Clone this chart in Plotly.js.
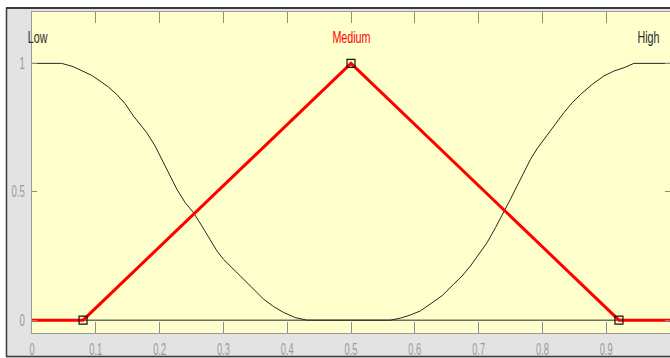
<!DOCTYPE html>
<html>
<head>
<meta charset="utf-8">
<script src="https://cdn.plot.ly/plotly-3.0.1.min.js"></script>
<style>html,body{margin:0;padding:0;background:#fff;}#chart{width:670px;height:358px;}</style>
</head>
<body>
<div id="chart"></div>
<script>
// Membership function "Low"
const lowX = [0, 0.0465, 0.0648, 0.0805, 0.0936, 0.1067, 0.1198, 0.1328, 0.1459, 0.1590, 0.1694, 0.1799, 0.1930, 0.2060, 0.2165, 0.2270, 0.2400, 0.2531, 0.2662, 0.2793, 0.2897, 0.3002, 0.3159, 0.3316, 0.3472, 0.3629, 0.3786, 0.3943, 0.4126, 0.4309, 1.0];
const lowY = [1, 1.0, 0.987, 0.970, 0.953, 0.931, 0.908, 0.879, 0.843, 0.795, 0.763, 0.730, 0.678, 0.613, 0.561, 0.510, 0.458, 0.419, 0.367, 0.315, 0.270, 0.237, 0.198, 0.160, 0.121, 0.082, 0.053, 0.030, 0.010, 0, 0];
// Membership function "High"
const highX = [0, 0.5617, 0.5773, 0.5930, 0.6087, 0.6244, 0.6427, 0.6609, 0.6741, 0.6872, 0.7002, 0.7133, 0.7264, 0.7395, 0.7499, 0.7604, 0.7709, 0.7813, 0.7918, 0.8023, 0.8180, 0.8337, 0.8468, 0.8598, 0.8781, 0.8964, 0.9121, 0.9278, 0.9435, 1.0];
const highY = [0, 0, 0.008, 0.020, 0.036, 0.062, 0.095, 0.140, 0.172, 0.211, 0.254, 0.302, 0.360, 0.419, 0.471, 0.523, 0.574, 0.626, 0.668, 0.704, 0.756, 0.808, 0.847, 0.879, 0.918, 0.951, 0.970, 0.983, 1.0, 1.0];
// Membership function "Medium" (triangle)
const medX = [0, 0.08, 0.5, 0.92, 1.0];
const medY = [0, 0, 1, 0, 0];
const medParamX = [0.08, 0.5, 0.92];
const medParamY = [0, 1, 0];
// Labels
const mfNames = ["Low", "Medium", "High"];
const mfLabelX = [0.009, 0.5, 0.966];
const mfLabelY = [1.1, 1.1, 1.1];
const xTicks = [0, 0.1, 0.2, 0.3, 0.4, 0.5, 0.6, 0.7, 0.8, 0.9, 1];
const xTickText = ["0", "0.1", "0.2", "0.3", "0.4", "0.5", "0.6", "0.7", "0.8", "0.9", "1"];
const yTicks = [0, 0.5, 1];
const yTickText = ["0", "0.5", "1"];

const fam = '"Liberation Sans", Arial, sans-serif';

const traces = [
  {x: lowX, y: lowY, type: 'scatter', mode: 'lines', line: {color: '#262626', width: 1}, hoverinfo: 'skip'},
  {x: highX, y: highY, type: 'scatter', mode: 'lines', line: {color: '#262626', width: 1}, hoverinfo: 'skip'},
  {x: medX, y: medY, type: 'scatter', mode: 'lines', line: {color: '#ff0000', width: 3}, hoverinfo: 'skip'},
  {x: medParamX, y: medParamY, type: 'scatter', mode: 'markers',
   marker: {symbol: 'square-open', size: 8, color: '#111', line: {width: 1.2, color: '#111'}}, hoverinfo: 'skip', cliponaxis: false}
];

// pixel -> paper helpers
const L = 32, T = 12, W = 638, H = 321;
const px = p => (p - L) / W;
const py = p => (T + H - p) / H;

const mfColors = ['#2a2a2a', '#ff0000', '#2a2a2a'];

const layout = {
  width: 670, height: 358,
  margin: {l: L, r: 670 - L - W, t: T, b: 358 - T - H},
  paper_bgcolor: '#e3e3e3',
  plot_bgcolor: '#ffffcc',
  showlegend: false,
  xaxis: {
    range: [0, 1], tickvals: xTicks, ticktext: xTickText,
    ticks: 'inside', ticklen: 11, tickcolor: '#8c8c8c', tickwidth: 1,
    showline: true, linecolor: '#9a9a9a', linewidth: 1, mirror: 'ticks',
    showgrid: false, zeroline: false, fixedrange: true,
    tickfont: {family: fam, size: 16, color: '#9a9a9a'},
    ticklabelstandoff: 2
  },
  yaxis: {
    range: [-0.05, 1.2], tickvals: yTicks, ticktext: yTickText,
    ticks: 'inside', ticklen: 5, tickcolor: '#8c8c8c', tickwidth: 1,
    showline: true, linecolor: '#9a9a9a', linewidth: 1, mirror: 'ticks',
    showgrid: false, zeroline: false, fixedrange: true,
    tickfont: {family: fam, size: 16, color: '#9a9a9a'},
    ticklabelstandoff: 3
  },
  annotations: mfNames.map((n, i) => ({
    x: mfLabelX[i], y: mfLabelY[i], xref: 'x', yref: 'y', text: n, showarrow: false,
    xanchor: 'center', font: {family: fam, size: 16, color: mfColors[i]}
  })),
  shapes: [
    {type: 'rect', xref: 'paper', yref: 'paper', x0: px(0), x1: px(670), y0: py(7), y1: py(0), fillcolor: '#ffffff', line: {width: 0}, layer: 'above'},
    {type: 'rect', xref: 'paper', yref: 'paper', x0: px(0), x1: px(6), y0: py(358), y1: py(0), fillcolor: '#ffffff', line: {width: 0}, layer: 'above'},
    {type: 'line', xref: 'paper', yref: 'paper', x0: px(6), x1: px(670), y0: py(8), y1: py(8), line: {color: '#3a3a3a', width: 2}, layer: 'above'},
    {type: 'line', xref: 'paper', yref: 'paper', x0: px(6.5), x1: px(6.5), y0: py(8), y1: py(357), line: {color: '#3a3a3a', width: 1.5}, layer: 'above'},
    {type: 'line', xref: 'paper', yref: 'paper', x0: px(6), x1: px(670), y0: py(356.5), y1: py(356.5), line: {color: '#3a3a3a', width: 1.5}, layer: 'above'}
  ]
};

// Horizontally condense text (the reference uses a very narrow face)
function condense(sel, factor) {
  document.querySelectorAll(sel).forEach(t => {
    const w = t.getComputedTextLength();
    if (w > 0) {
      t.setAttribute('textLength', (w * factor).toFixed(2));
      t.setAttribute('lengthAdjust', 'spacingAndGlyphs');
    }
  });
}

Plotly.newPlot('chart', traces, layout, {staticPlot: true, displayModeBar: false}).then(() => {
  condense('#chart .xtick text', 0.58);
  condense('#chart .ytick text', 0.6);
  condense('#chart .annotation-text', 0.67);
});
</script>
</body>
</html>
